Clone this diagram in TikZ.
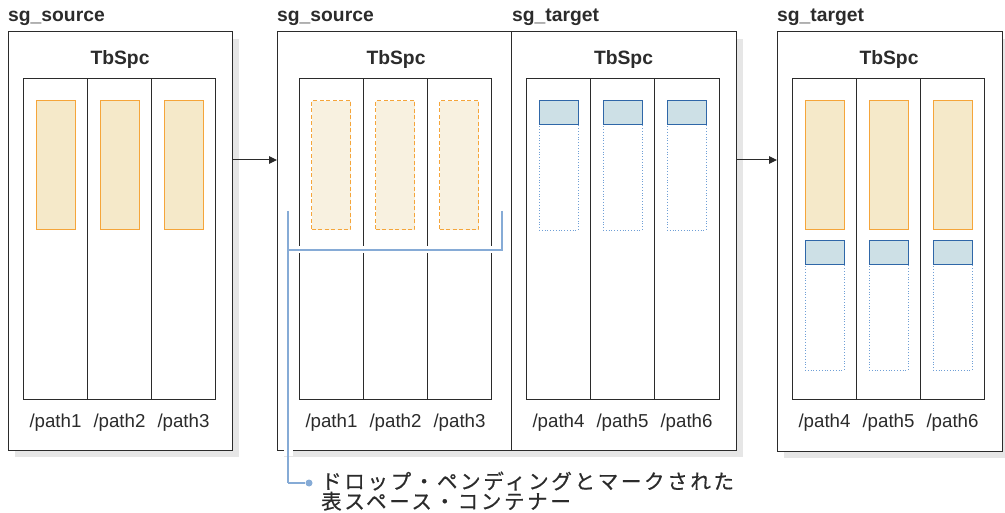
\documentclass[tikz,border=0pt]{standalone}
\usepackage{fontspec}
\setmainfont{Liberation Sans}
\newfontfamily\jpfont[LetterSpace=13, FakeBold=0.6]{Noto Sans CJK JP}
\usetikzlibrary{arrows.meta,shadows}
\definecolor{lineg}{HTML}{2B2B2B}
\definecolor{shadowg}{HTML}{E6E6E6}
\definecolor{orgline}{HTML}{F5A53A}
\definecolor{orgfill}{HTML}{F5E9C9}
\definecolor{orgfilltwo}{HTML}{F8F1E0}
\definecolor{bluefill}{HTML}{CDE0E6}
\definecolor{blueline}{HTML}{2F67A8}
\definecolor{bluedot}{HTML}{6F9FD6}
\definecolor{callout}{HTML}{86ABD6}
\begin{document}
\begin{tikzpicture}[x=1pt,y=-1pt,
  rbox/.style={draw=lineg, line width=1pt, inner sep=0pt, outer sep=0pt, anchor=north west},
  panel/.style={rbox, fill=white, drop shadow={shadow xshift=7pt, shadow yshift=-7pt, opacity=1, fill=shadowg}},
  tbl/.style={rbox},
  orect/.style={draw=orgline, fill=orgfill, line width=1pt, inner sep=0pt, outer sep=0pt, anchor=north west, minimum width=39pt, minimum height=129pt},
  drect/.style={draw=orgline, fill=orgfilltwo, dashed, dash pattern=on 4pt off 2.5pt, line width=1pt, inner sep=0pt, outer sep=0pt, anchor=north west, minimum width=39pt, minimum height=129pt},
  brect/.style={draw=blueline, fill=bluefill, line width=1pt, inner sep=0pt, outer sep=0pt, anchor=north west, minimum width=39pt, minimum height=24pt},
  dotrect/.style={draw=bluedot, dotted, line width=0.8pt, inner sep=0pt, outer sep=0pt, anchor=north west, minimum width=39pt, minimum height=129pt},
  divline/.style={draw=lineg, line width=1pt},
  arr/.style={draw=lineg, line width=1pt, -{Triangle[length=8pt,width=7.5pt]}},
  hdr/.style={font=\bfseries\fontsize{19.3}{21}\selectfont, text=lineg, anchor=base west, inner sep=0pt},
  tbs/.style={font=\bfseries\fontsize{19.3}{21}\selectfont, text=lineg, anchor=base, inner sep=0pt},
  pth/.style={font=\fontsize{18.7}{20}\selectfont, text=lineg, anchor=base, inner sep=0pt},
  callline/.style={draw=callout, line width=1.1pt},
  halo/.style={draw=white, line width=7pt},
  cdot/.style={circle, fill=callout, inner sep=0pt, minimum size=7pt}
]
\useasboundingbox (0,0) rectangle (1005,513);

% panels
\node[panel, minimum width=224pt, minimum height=418pt] (p1) at (8,32) {};
\node[panel, minimum width=459pt, minimum height=418pt] (p2) at (277,32) {};
\node[panel, minimum width=225pt, minimum height=419pt] (p3) at (777,32) {};
\coordinate (p2mt) at (511,32);
\coordinate (p2mb) at (511,450);
\draw[divline] (p2mt) -- (p2mb);

% headers
\node[hdr] (h1) at (8,22) {sg\_source};
\node[hdr] (h2) at (277,22) {sg\_source};
\node[hdr] (h3) at (512,22) {sg\_target};
\node[hdr] (h4) at (777,22) {sg\_target};

% tables
\foreach \n/\x/\tw/\pa/\pb/\pc in {t1/23/192/1/2/3, t2/299/192/1/2/3, t3/526/193/4/5/6, t4/792/192/4/5/6}{
  \node[tbl, minimum width=\tw pt, minimum height=320pt] (\n) at (\x,79) {};
  \node[tbs] (\n-title) at (\x+\tw/2+1,65) {TbSpc};
  \draw[divline] (\x+64,79) coordinate (\n-d1t) -- (\x+64,399) coordinate (\n-d1b);
  \draw[divline] (\x+128,79) coordinate (\n-d2t) -- (\x+128,399) coordinate (\n-d2b);
  \node[pth] (\n-l1) at (\x+32.5,427) {/path\pa};
  \node[pth] (\n-l2) at (\x+96.5,427) {/path\pb};
  \node[pth] (\n-l3) at (\x+160.5,427) {/path\pc};
}

% containers
\foreach \i in {0,1,2}{
  \node[orect] (a\i) at (36+64*\i,101) {};
  \node[drect] (b\i) at (311.5+64*\i,101) {};
  \node[dotrect] (cd\i) at (539+64*\i,101) {};
  \node[brect] (c\i) at (539+64*\i,101) {};
  \node[orect] (d\i) at (805+64*\i,101) {};
  \node[dotrect, minimum height=129pt] (ed\i) at (805+64*\i,241) {};
  \node[brect] (e\i) at (805+64*\i,241) {};
}

% arrows
\coordinate (a1s) at (p1.east |- 0,160);
\coordinate (a1e) at (p2.west |- 0,160);
\draw[arr] (a1s) -- (a1e);
\coordinate (a2s) at (p2.east |- 0,160);
\coordinate (a2e) at (p3.west |- 0,160);
\draw[arr] (a2s) -- (a2e);

% callout bracket
\coordinate (bl) at (288,211);
\coordinate (br) at (502,211);
\coordinate (bbl) at (288,250);
\coordinate (bbr) at (502,250);
\coordinate (bend) at (288,483);
\coordinate (hx1) at (288,444);
\coordinate (hx2) at (288,456);
\draw[halo] (bbl) -- (bbr);
\draw[halo, line width=9pt] (hx1) -- (hx2);
\draw[callline] (br) -- (bbr) -- (bbl);
\draw[callline] (bl) -- (bend);
\node[cdot] (cd) at (309,483) {};
\draw[callline] (bend) -- (cd);
\node[anchor=base west, align=left, inner sep=0pt, text=lineg, font=\jpfont\fontsize{20.5}{20}\selectfont] (note) at (321,509) {ドロップ・ペンディングとマークされた\\表スペース・コンテナー};
\end{tikzpicture}
\end{document}
